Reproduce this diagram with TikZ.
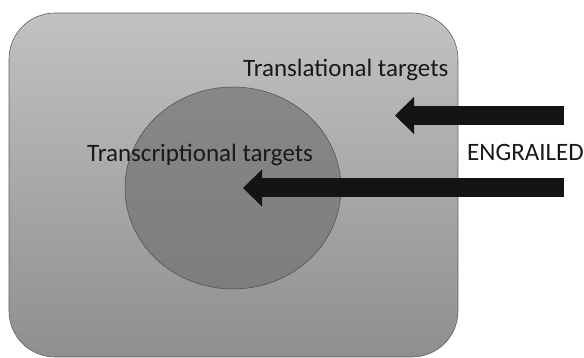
\documentclass[tikz,border=0pt]{standalone}
\usepackage{fontspec}
\setmainfont{Carlito}
\usetikzlibrary{arrows.meta,shadings}

\definecolor{cellTop}{gray}{0.76}
\definecolor{cellBottom}{gray}{0.56}
\definecolor{coreTop}{gray}{0.53}
\definecolor{coreBottom}{gray}{0.49}
\definecolor{labelInk}{gray}{0.1}

\tikzset{
  cellbox/.style={rounded corners=46pt, top color=cellTop, bottom color=cellBottom,
    draw=gray!75!black, line width=0.6pt},
  corezone/.style={top color=coreTop, bottom color=coreBottom,
    draw=gray!60!black, line width=0.5pt},
  label/.style={font=\fontsize{25}{28}\selectfont, text=labelInk, inner sep=0pt},
  bigarrow/.style={draw=black!92, line width=19pt,
    -{Triangle[length=19pt,width=36pt]}},
}

\begin{document}
\begin{tikzpicture}[x=1pt,y=-1pt]
  \useasboundingbox (0,0) rectangle (584,358);

  % outer cell compartment
  \path[cellbox] (9,13) rectangle (458,357);

  % inner nuclear compartment
  \path[corezone] (233,188) ellipse [x radius=108, y radius=101];

  % labels
  \node[label, anchor=base west] (transl) at (243,77) {Translational targets};
  \node[label, anchor=base west] (transc) at (87,162) {Transcriptional targets};
  \node[label, anchor=base west] (engr) at (467,161) {ENGRAILED};

  % arrow end points
  \coordinate (tailA) at (564,115.5);
  \coordinate (tipA) at (395,115.5);
  \coordinate (tailB) at (564,188);
  \coordinate (tipB) at (243,188);

  \draw[bigarrow] (tailA) -- (tipA);
  \draw[bigarrow] (tailB) -- (tipB);
\end{tikzpicture}
\end{document}
